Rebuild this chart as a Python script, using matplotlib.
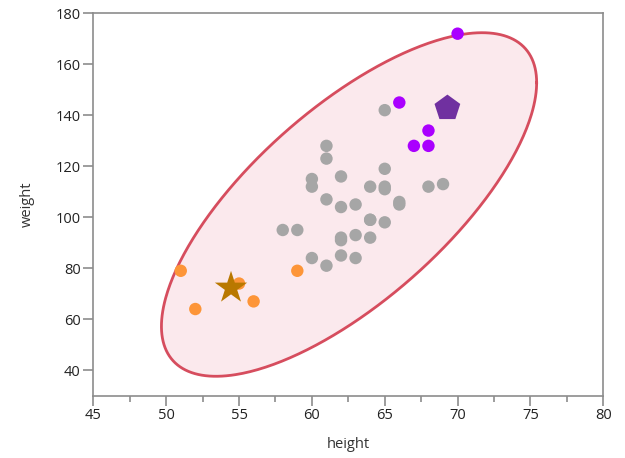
import numpy as np
import matplotlib
matplotlib.use('Agg')
import matplotlib.pyplot as plt

plt.rcParams['font.family'] = ['Open Sans', 'DejaVu Sans']

# gray points (height, weight)
gray_h = [59, 61, 60, 61, 60, 61, 65, 63, 58, 61, 62, 65, 63, 62, 63, 64, 65, 64,
          68, 64, 69, 62, 64, 65, 66, 62, 66, 65, 60, 62]
gray_w = [95, 123, 84, 128, 112, 107, 98, 105, 95, 81, 91, 142, 84, 85, 93, 99, 119, 92,
          112, 99, 113, 92, 112, 111, 105, 104, 106, 112, 115, 116]
# orange cluster
orange_h = [55, 52, 51, 56, 59]
orange_w = [74, 64, 79, 67, 79]
# purple cluster
purple_h = [66, 67, 68, 68, 70]
purple_w = [145, 128, 128, 134, 172]
# centroid markers
star_pt = (54.45, 72.3)
pent_pt = (69.3, 142.8)

all_h = np.array(gray_h + orange_h + purple_h, dtype=float)
all_w = np.array(gray_w + orange_w + purple_w, dtype=float)

fig = plt.figure(figsize=(6.25, 4.58), dpi=100)
ax = fig.add_axes([0.1493, 0.136, 0.816, 0.835])

# density ellipse (99% bivariate normal)
mean = np.array([all_h.mean(), all_w.mean()])
cov = np.cov(all_h, all_w)
L = np.linalg.cholesky(cov)
k = np.sqrt(-2 * np.log(0.01))
t = np.linspace(0, 2 * np.pi, 400)
pts = mean[:, None] + k * L @ np.vstack([np.cos(t), np.sin(t)])
ax.fill(pts[0], pts[1], facecolor='#fbe9ed', edgecolor='none', zorder=1)
ax.plot(pts[0], pts[1], color='#d64d5e', lw=2, zorder=2)

ax.scatter(gray_h, gray_w, s=80, color='#a6a6a6', edgecolors='none', zorder=3)
ax.scatter(orange_h, orange_w, s=80, color='#fd9538', edgecolors='none', zorder=3)
ax.scatter(purple_h, purple_w, s=80, color='#aa00ff', edgecolors='none', zorder=3)
ax.scatter([star_pt[0]], [star_pt[1]], marker='*', s=600, color='#b97800', edgecolors='none', zorder=4)
ax.scatter([pent_pt[0]], [pent_pt[1]], marker='p', s=380, color='#7030a0', edgecolors='none', zorder=4)

ax.set_xlim(45, 80)
ax.set_ylim(30, 180)
ax.set_xticks(np.arange(45, 81, 5))
ax.set_xticks(np.arange(47.5, 80, 5), minor=True)
ax.set_yticks(np.arange(40, 181, 20))

for s in ax.spines.values():
    s.set_color('#8c8c8c')
    s.set_linewidth(1.2)
ax.tick_params(which='major', length=7, width=1.2, color='#8c8c8c', labelsize=10.5,
               labelcolor='#222222', pad=2)
ax.tick_params(which='minor', length=4, width=1.2, color='#8c8c8c')

ax.set_xlabel('height', fontsize=10.5, color='#333333', labelpad=10)
ax.set_ylabel('weight', fontsize=10.5, color='#333333', labelpad=15)

fig.savefig('out.png', dpi=100)
